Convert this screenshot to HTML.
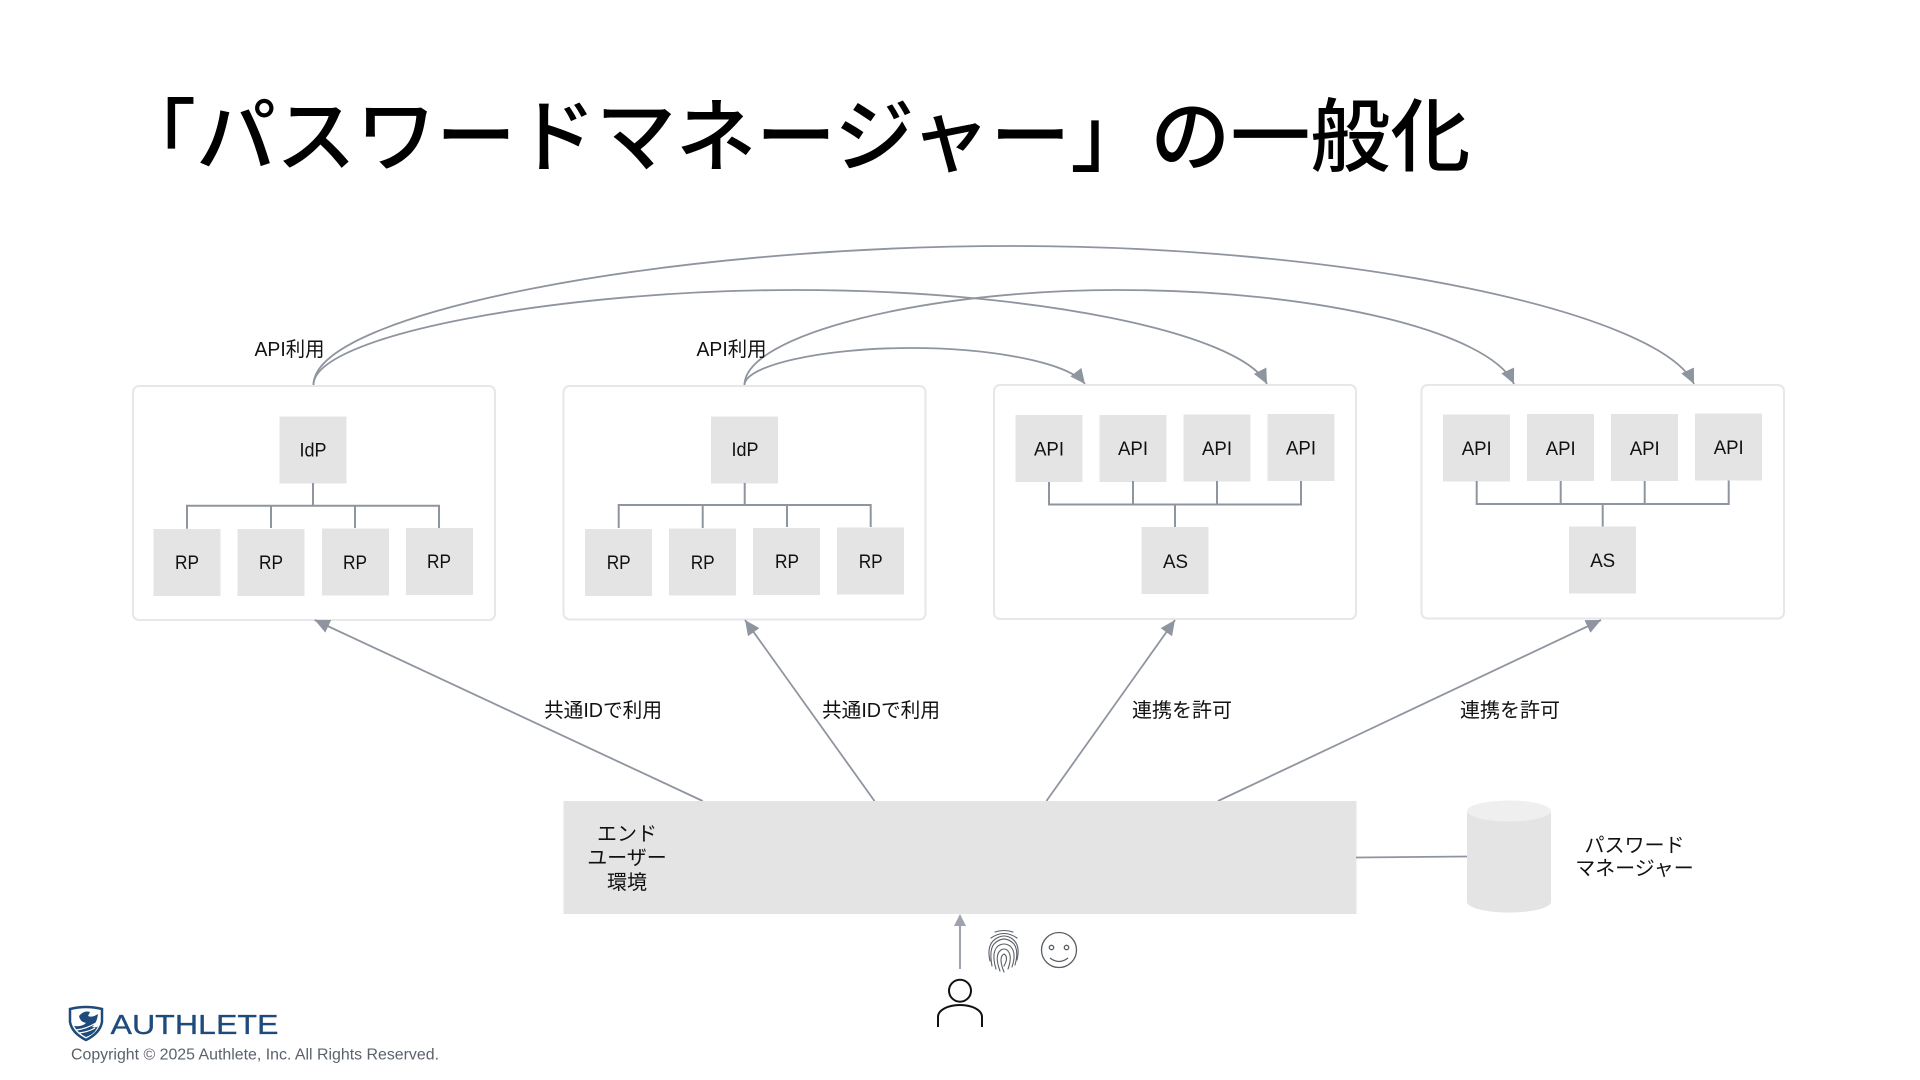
<!DOCTYPE html>
<html lang="ja"><head><meta charset="utf-8"><title>「パスワードマネージャー」の一般化</title>
<style>
html,body{margin:0;padding:0;background:#fff;width:1920px;height:1080px;overflow:hidden}
svg{display:block}
text{font-family:"Liberation Sans","Noto Sans CJK JP",sans-serif;fill:#111}
.t{font-family:"Noto Sans CJK JP","Liberation Sans",sans-serif;font-size:80px;font-weight:500;fill:#000}
.l{font-size:19px;text-anchor:middle}
.j{font-size:20px}
.c{font-size:20px;text-anchor:middle}
.box{fill:#fff;stroke:#e6e7e9;stroke-width:2}
.n{fill:#e4e4e4}
.w{fill:none;stroke:#8f959f;stroke-width:2}
.v{fill:none;stroke:#8f959f;stroke-width:1.8}
</style></head><body>
<svg width="1920" height="1080" viewBox="0 0 1920 1080" xmlns="http://www.w3.org/2000/svg">
<defs>
<marker id="a" markerUnits="userSpaceOnUse" markerWidth="16" markerHeight="16" refX="15" refY="8" orient="auto"><path d="M0 1 L15 8 L0 15Z" fill="#8f959f"/></marker>
</defs>
<text class="t" x="116" y="165">「パスワードマネージャー」の一般化</text>

<!-- curves -->
<path class="v" marker-end="url(#a)" d="M313.5 385 C313.5 312 670 246 1012 246 C1350 246 1660 312 1694 384"/>
<path class="v" marker-end="url(#a)" d="M313.5 385 C313.5 335 560 290 796 290 C1030 290 1240 332 1267 384"/>
<path class="v" marker-end="url(#a)" d="M744.5 385 C744.5 335 925 290 1118 290 C1320 290 1490 332 1514 384"/>
<path class="v" marker-end="url(#a)" d="M744.5 385 C744.5 366 820 348 911 348 C990 348 1068 362 1085 384"/>

<text class="j" x="254.5" y="356" textLength="70" lengthAdjust="spacingAndGlyphs">API利用</text>
<text class="j" x="696.5" y="356" textLength="70" lengthAdjust="spacingAndGlyphs">API利用</text>

<!-- box 1 -->
<rect class="box" x="133" y="386" width="362" height="234" rx="6"/>
<rect class="n" x="279.5" y="416.5" width="67" height="67"/>
<path class="w" d="M313 483V505.7M187 528.7V505.7H439V528M271 505.7V528M355 505.7V528"/>
<rect class="n" x="153.5" y="529" width="67" height="67"/>
<rect class="n" x="237.5" y="529" width="67" height="67"/>
<rect class="n" x="322" y="528.5" width="67" height="67"/>
<rect class="n" x="406" y="528" width="67" height="67"/>
<text class="l" x="313" y="456.5" textLength="27" lengthAdjust="spacingAndGlyphs">IdP</text>
<text class="l" x="187" y="569" textLength="24" lengthAdjust="spacingAndGlyphs">RP</text>
<text class="l" x="271" y="569" textLength="24" lengthAdjust="spacingAndGlyphs">RP</text>
<text class="l" x="355" y="569" textLength="24" lengthAdjust="spacingAndGlyphs">RP</text>
<text class="l" x="439" y="568" textLength="24" lengthAdjust="spacingAndGlyphs">RP</text>

<!-- box 2 -->
<rect class="box" x="563.5" y="386" width="362" height="233.5" rx="6"/>
<rect class="n" x="711" y="416.5" width="67" height="67"/>
<path class="w" d="M744.7 483V505M618.7 528V505H870.7V527M702.7 505V528M787 505V527"/>
<rect class="n" x="585" y="529" width="67" height="67"/>
<rect class="n" x="669" y="528.5" width="67" height="67"/>
<rect class="n" x="753" y="528" width="67" height="67"/>
<rect class="n" x="837" y="527.5" width="67" height="67"/>
<text class="l" x="745" y="456" textLength="27" lengthAdjust="spacingAndGlyphs">IdP</text>
<text class="l" x="618.7" y="569" textLength="24" lengthAdjust="spacingAndGlyphs">RP</text>
<text class="l" x="702.7" y="569" textLength="24" lengthAdjust="spacingAndGlyphs">RP</text>
<text class="l" x="787" y="568" textLength="24" lengthAdjust="spacingAndGlyphs">RP</text>
<text class="l" x="870.7" y="568" textLength="24" lengthAdjust="spacingAndGlyphs">RP</text>

<!-- box 3 -->
<rect class="box" x="994" y="385" width="362" height="234" rx="6"/>
<rect class="n" x="1015.5" y="415" width="67" height="67"/>
<rect class="n" x="1099.5" y="415" width="67" height="67"/>
<rect class="n" x="1183.5" y="414.5" width="67" height="67"/>
<rect class="n" x="1267.5" y="414" width="67" height="67"/>
<path class="w" d="M1049 482V504.5H1301V481M1133 481V504.5M1217 481V504.5M1175 504.5V527"/>
<rect class="n" x="1141.5" y="527" width="67" height="67"/>
<text class="l" x="1049" y="455.5" textLength="30" lengthAdjust="spacingAndGlyphs">API</text>
<text class="l" x="1133" y="455" textLength="30" lengthAdjust="spacingAndGlyphs">API</text>
<text class="l" x="1217" y="455" textLength="30" lengthAdjust="spacingAndGlyphs">API</text>
<text class="l" x="1301" y="454.5" textLength="30" lengthAdjust="spacingAndGlyphs">API</text>
<text class="l" x="1175.5" y="568" textLength="25" lengthAdjust="spacingAndGlyphs">AS</text>

<!-- box 4 -->
<rect class="box" x="1421.5" y="385" width="362.5" height="233.5" rx="6"/>
<rect class="n" x="1443" y="414.5" width="67" height="67"/>
<rect class="n" x="1527" y="414" width="67" height="67"/>
<rect class="n" x="1611" y="414" width="67" height="67"/>
<rect class="n" x="1695" y="413.5" width="67" height="67"/>
<path class="w" d="M1476.7 481V504H1728.7V480.5M1560.7 481V504M1644.7 481V504M1602.7 504V527"/>
<rect class="n" x="1569" y="526.5" width="67" height="67"/>
<text class="l" x="1476.7" y="455" textLength="30" lengthAdjust="spacingAndGlyphs">API</text>
<text class="l" x="1560.7" y="455" textLength="30" lengthAdjust="spacingAndGlyphs">API</text>
<text class="l" x="1644.7" y="455" textLength="30" lengthAdjust="spacingAndGlyphs">API</text>
<text class="l" x="1728.7" y="454" textLength="30" lengthAdjust="spacingAndGlyphs">API</text>
<text class="l" x="1602.7" y="567" textLength="25" lengthAdjust="spacingAndGlyphs">AS</text>

<!-- env arrows -->
<line class="v" marker-end="url(#a)" x1="702.7" y1="801" x2="314.7" y2="620"/>
<line class="v" marker-end="url(#a)" x1="874.5" y1="801" x2="745" y2="620"/>
<line class="v" marker-end="url(#a)" x1="1046.4" y1="801" x2="1175" y2="620"/>
<line class="v" marker-end="url(#a)" x1="1218" y1="801" x2="1601" y2="620"/>

<text class="j" x="544" y="717" textLength="118" lengthAdjust="spacingAndGlyphs">共通IDで利用</text>
<text class="j" x="822" y="717" textLength="118" lengthAdjust="spacingAndGlyphs">共通IDで利用</text>
<text class="j" x="1132" y="717">連携を許可</text>
<text class="j" x="1460" y="717">連携を許可</text>

<!-- env box -->
<rect class="n" x="563.5" y="801" width="793" height="113"/>
<text class="c" x="627" y="840.5">エンド</text>
<text class="c" x="627" y="864.5">ユーザー</text>
<text class="c" x="627" y="889">環境</text>

<!-- cylinder -->
<line x1="1356" y1="857.5" x2="1467" y2="856.5" stroke="#8f959f" stroke-width="1.8"/>
<path d="M1467 811V902A42 10.5 0 0 0 1551 902V811Z" fill="#e4e4e4"/>
<ellipse cx="1509" cy="811" rx="42" ry="10.5" fill="#efefef"/>
<text class="c" x="1634.5" y="852">パスワード</text>
<text class="c" x="1634.5" y="875">マネージャー</text>

<!-- user -->
<path d="M960 969V926" stroke="#9ea3af" stroke-width="2" fill="none"/>
<path d="M960 914L966 926H954Z" fill="#9ea3af"/>
<circle cx="960" cy="990.7" r="11" fill="none" stroke="#111" stroke-width="2"/>
<path d="M938 1027V1017C938 1010 948 1005 960 1005C972 1005 982 1010 982 1017V1027" fill="none" stroke="#111" stroke-width="2"/>

<!-- fingerprint -->
<g fill="none" stroke="#5a5f66" stroke-width="1.1" stroke-linecap="round">
<path d="M995 932Q1004 929 1013 932"/>
<path d="M991 938Q1004 929 1017 938"/>
<path d="M990 961Q986 944 997 938Q1004 934 1011 938Q1021 944 1017 960"/>
<path d="M992 966Q989 950 994 944Q1004 934 1014 944Q1019 951 1015 965"/>
<path d="M996 969Q991 952 998 946Q1004 942 1010 946Q1017 952 1012 967"/>
<path d="M1000 971Q994 955 1001 950Q1004 948 1007 950Q1013 955 1008 969"/>
<path d="M1004 972Q998 957 1004 954Q1009 957 1004 966"/>
</g>

<!-- smiley -->
<g fill="none" stroke="#5a5f66" stroke-width="1.3">
<circle cx="1059" cy="950" r="17.5"/>
<circle cx="1051.5" cy="947.5" r="2.2"/>
<circle cx="1066.5" cy="947.5" r="2.2"/>
<path d="M1050 958Q1059 965 1068 958"/>
</g>

<!-- logo -->
<path d="M70 1009Q86 1005 102 1009V1022Q100 1033 86 1040Q72 1033 70 1022Z" fill="none" stroke="#1f4a7c" stroke-width="2.5"/>
<path d="M79 1016Q84 1010 90 1012L88 1016Q92 1018 98 1014Q97 1023 92 1027Q97 1028 98 1026Q95 1034 86 1037Q78 1033 74 1026Q82 1027 86 1023Q80 1022 79 1016Z" fill="#1f4a7c"/>
<path d="M76 1030Q86 1029 96 1023M79 1033Q88 1032 95 1028" stroke="#fff" stroke-width="1.2" fill="none"/>
<text x="110.5" y="1034" font-size="28" textLength="168" lengthAdjust="spacingAndGlyphs" style="fill:#1f4a7c;stroke:#1f4a7c;stroke-width:.3">AUTHLETE</text>
<text x="71" y="1059.5" font-size="15.5" textLength="368" lengthAdjust="spacingAndGlyphs" style="fill:#5a626c">Copyright © 2025 Authlete, Inc. All Rights Reserved.</text>
</svg>
</body></html>
